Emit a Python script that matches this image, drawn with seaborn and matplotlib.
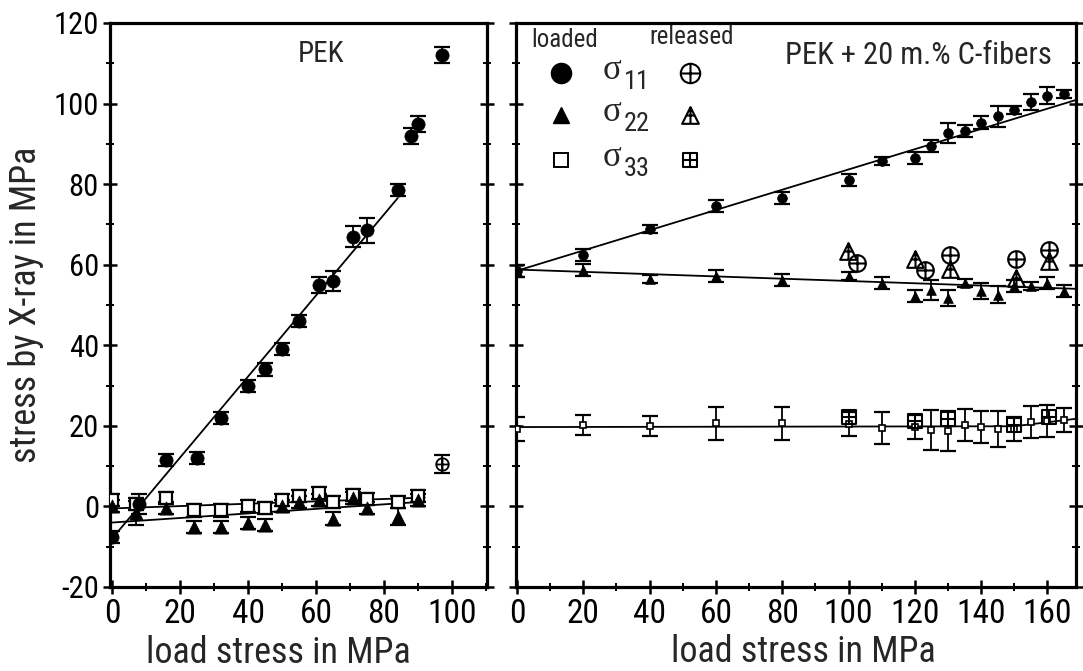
import matplotlib
matplotlib.use("Agg")
import matplotlib.pyplot as plt
from matplotlib.path import Path
from matplotlib.ticker import MultipleLocator
import seaborn as sns

# ---------------- data : left panel (PEK) ----------------
pek_s11_x = [0, 8, 16, 25, 32, 40, 45, 50, 55, 61, 65, 71, 75, 84, 88, 90, 97]
pek_s11_y = [-7.5, 0.5, 11.5, 12, 22, 30, 34, 39, 46, 55, 56, 67, 68.5, 78.5, 92, 95, 112]
pek_s11_err = [1.5, 2.5, 1.5, 1.5, 1.5, 1.5, 1.5, 1.5, 1.5, 2, 2.5, 2.5, 3, 1.5, 2, 2, 2]

pek_s22_x = [0, 7, 16, 24, 32, 40, 45, 50, 55, 61, 65, 71, 75, 84, 90]
pek_s22_y = [0, -1.6, -0.5, -5, -5, -4, -4.5, 0, 1, 1.5, -3, 2, -0.5, -2.5, 1.5]
pek_s22_err = [1.5, 3, 1.5, 1.5, 1.5, 1.5, 1.5, 1.5, 1.5, 1.5, 1.5, 1.5, 1.5, 2, 1.5]

pek_s33_x = [0, 7, 16, 24, 32, 40, 45, 50, 55, 61, 65, 71, 75, 84, 90]
pek_s33_y = [1.5, 0.5, 2, -1, -1, 0, -0.5, 1.5, 2.5, 3.3, 1, 2.8, 1.8, 1, 2.6]
pek_s33_err = [1.5, 1.5, 1.5, 1.5, 1.5, 1.5, 1.5, 1.5, 1.5, 1.5, 1.5, 1.5, 1.5, 1.5, 1.5]

pek_rel11_x = [97]
pek_rel11_y = [10.5]
pek_rel11_err = [2.2]

pek_fit11_x = [0, 84]
pek_fit11_y = [-8, 76.5]
pek_fit22_x = [0, 92]
pek_fit22_y = [-4, 1.2]
pek_fit33_x = [0, 92]
pek_fit33_y = [-0.5, 2.2]

# ---------------- data : right panel (PEK + 20 m.% C-fibers) ----------------
cf_x = [0, 20, 40, 60, 80, 100, 110, 120, 125, 130, 135, 140, 145, 150, 155, 160, 165]
cf_s11_y = [58.5, 62.5, 68.8, 74.5, 76.5, 81, 85.8, 86.5, 89.5, 92.8, 93.3, 95.3, 96.8, 98.5, 100.4, 102, 102.3]
cf_s11_err = [1.5, 1.5, 1, 1.5, 1.5, 1.5, 1, 1.5, 1.5, 2.5, 1.5, 1.5, 2.5, 1, 2, 2, 1]
cf_s22_y = [58.5, 58.6, 56.5, 57.2, 56.2, 57.2, 55.5, 52.3, 53.8, 51.8, 55.5, 53.4, 52.6, 54.7, 54.8, 55.5, 53.5]
cf_s22_err = [1.5, 1.5, 1, 1.5, 1.5, 1, 1.5, 1.5, 2.5, 2, 1, 2, 2, 1.5, 1, 1.5, 1.5]
cf_s33_y = [19.3, 20.2, 19.9, 20.6, 20.6, 20.5, 19.5, 19.8, 19, 18.7, 20.2, 19.8, 19.2, 19.3, 21, 21.3, 21.5]
cf_s33_err = [3, 2.5, 2.5, 4, 4, 3, 4, 3, 5, 5, 4, 4, 4.5, 3, 4, 4, 3]

cf_rel11_x = [102.5, 123, 130.5, 150.5, 160.5]
cf_rel11_y = [60.5, 58.7, 62.3, 61.5, 63.6]
cf_rel22_x = [99.7, 120, 130.5, 150.5, 160.5]
cf_rel22_y = [63.4, 61.3, 58.9, 56.8, 61.0]
cf_rel33_x = [100, 120, 130, 150, 160.5]
cf_rel33_y = [22.2, 21.2, 21.6, 20.3, 22.2]

cf_fit11_x = [0, 169]
cf_fit11_y = [58.5, 101]
cf_fit22_x = [0, 169]
cf_fit22_y = [58.8, 54]
cf_fit33_x = [0, 150, 169]
cf_fit33_y = [19.7, 19.9, 21.8]

# ---------------- style ----------------
sns.set_style("ticks")
plt.rcParams["font.family"] = ["Roboto Condensed", "Archivo Narrow", "PT Sans Narrow",
                               "Liberation Sans", "DejaVu Sans"]
plt.rcParams["axes.unicode_minus"] = False

M, L = Path.MOVETO, Path.LINETO
cross = Path([(-1, 0), (1, 0), (0, -1), (0, 1)], [M, L, M, L])
oplus = Path.make_compound_path(Path.unit_circle(), cross)
square = Path([(-1, -1), (1, -1), (1, 1), (-1, 1), (-1, -1)], [M, L, L, L, Path.CLOSEPOLY])
boxplus = Path.make_compound_path(square, cross)
tri = Path([(0, 1), (-1, -1), (1, -1), (0, 1)], [M, L, L, Path.CLOSEPOLY])
tri_lines = Path([(0, 1), (0, -1), (-0.5, 0), (0.5, 0)], [M, L, M, L])
triplus = Path.make_compound_path(tri, tri_lines)

fig = plt.figure(figsize=(10.83, 6.71), dpi=100)
W, H = 1083, 671
top_px, bot_px = 23, 587
axL = fig.add_axes([110 / W, 1 - bot_px / H, (487 - 110) / W, (bot_px - top_px) / H])
axR = fig.add_axes([516 / W, 1 - bot_px / H, (1076 - 516) / W, (bot_px - top_px) / H])

EB = dict(fmt="none", ecolor="black", elinewidth=1.3, capsize=6, capthick=1.6, zorder=3)


def fit(ax, xs, ys):
    sns.lineplot(x=xs, y=ys, ax=ax, color="black", linewidth=1.3, sort=False,
                 errorbar=None, zorder=2)


def pts(ax, xs, ys, errs, marker, ms, filled, mew=1.4):
    if errs is not None:
        ax.errorbar(xs, ys, yerr=errs, **EB)
    if filled == "black":
        sns.scatterplot(x=xs, y=ys, ax=ax, marker=marker, s=ms ** 2, color="black",
                        edgecolor="black", linewidth=0.5, zorder=4, legend=False)
    else:
        ax.plot(xs, ys, linestyle="none", marker=marker, markersize=ms,
                markerfacecolor=filled, markeredgecolor="black", markeredgewidth=mew,
                zorder=4)


# ---- left panel ----
fit(axL, pek_fit11_x, pek_fit11_y)
fit(axL, pek_fit22_x, pek_fit22_y)
fit(axL, pek_fit33_x, pek_fit33_y)
pts(axL, pek_s33_x, pek_s33_y, pek_s33_err, "s", 9, "white", 1.6)
pts(axL, pek_s22_x, pek_s22_y, pek_s22_err, "^", 9.5, "black")
pts(axL, pek_s11_x, pek_s11_y, pek_s11_err, "o", 9.5, "black")
pts(axL, pek_rel11_x, pek_rel11_y, pek_rel11_err, oplus, 9, "none", 1.3)

# ---- right panel ----
fit(axR, cf_fit11_x, cf_fit11_y)
fit(axR, cf_fit22_x, cf_fit22_y)
fit(axR, cf_fit33_x, cf_fit33_y)
pts(axR, cf_x, cf_s33_y, cf_s33_err, "s", 5, "white", 1.2)
pts(axR, cf_x, cf_s22_y, cf_s22_err, "^", 7, "black")
pts(axR, cf_x, cf_s11_y, cf_s11_err, "o", 7, "black")
pts(axR, cf_rel11_x, cf_rel11_y, None, oplus, 12, "none", 1.5)
pts(axR, cf_rel22_x, cf_rel22_y, None, triplus, 12, "none", 1.5)
pts(axR, cf_rel33_x, cf_rel33_y, None, boxplus, 9.5, "none", 1.5)

# ---- axes formatting ----
for ax, xmax, xlo in ((axL, 110.3, -0.6), (axR, 168.6, -0.3)):
    ax.set_xlim(xlo, xmax)
    ax.set_ylim(-20, 120)
    ax.xaxis.set_major_locator(MultipleLocator(20))
    ax.xaxis.set_minor_locator(MultipleLocator(10))
    ax.yaxis.set_major_locator(MultipleLocator(20))
    ax.yaxis.set_minor_locator(MultipleLocator(10))
    for s in ax.spines.values():
        s.set_visible(True)
        s.set_linewidth(2.3)
        s.set_color("black")
    ax.tick_params(which="major", direction="inout", length=10, width=1.8,
                   left=True, right=True, top=False, bottom=True, colors="black")
    ax.tick_params(which="minor", direction="inout", length=6, width=1.4,
                   left=True, right=True, top=False, bottom=True, colors="black")
    ax.tick_params(axis="x", which="major", labelsize=24, pad=3)
    ax.tick_params(axis="y", which="major", labelsize=22, pad=3)
    ax.set_xlabel("load stress in MPa", fontsize=26)

axR.tick_params(axis="y", labelleft=False)
axL.set_ylabel("stress by X-ray in MPa", fontsize=26)
axL.yaxis.set_label_coords(-0.175, 0.5)
axL.xaxis.set_label_coords(0.446, -0.085)
axR.xaxis.set_label_coords(0.5125, -0.083)

# ---- annotations ----
axL.text(0.56, 0.945, "PEK", transform=axL.transAxes, fontsize=21,
         ha="center", va="center")
axR.text(0.718, 0.943, "PEK + 20 m.% C-fibers", transform=axR.transAxes,
         fontsize=22, ha="center", va="center")

# ---- legend (manual) ----
axR.text(0.086, 0.970, "loaded", transform=axR.transAxes, fontsize=18,
         ha="center", va="center")
axR.text(0.314, 0.975, "released", transform=axR.transAxes, fontsize=18,
         ha="center", va="center")
leg_rows = [(0.911, "o", "11", oplus, 14.5, 14), (0.837, "^", "22", triplus, 12, 12),
            (0.757, "s", "33", boxplus, 10, 10)]
for yy, mk, sub, rmk, ms_l, ms_r in leg_rows:
    if mk == "s":
        axR.plot([0.080], [yy], transform=axR.transAxes, marker="s", markersize=ms_l,
                 markerfacecolor="white", markeredgecolor="black", markeredgewidth=1.4,
                 linestyle="none", clip_on=False)
    else:
        axR.plot([0.080], [yy], transform=axR.transAxes, marker=mk, markersize=ms_l,
                 color="black", linestyle="none", clip_on=False)
    axR.plot([0.311], [yy], transform=axR.transAxes, marker=rmk, markersize=ms_r,
             markerfacecolor="none", markeredgecolor="black", markeredgewidth=1.5,
             linestyle="none", clip_on=False)
    axR.text(0.154, yy + 0.004, "σ", transform=axR.transAxes, fontsize=25,
             ha="left", va="center", family=["Liberation Serif", "DejaVu Serif"])
    axR.text(0.193, yy - 0.016, sub, transform=axR.transAxes, fontsize=19,
             ha="left", va="center")

fig.savefig("out.png", dpi=100)
